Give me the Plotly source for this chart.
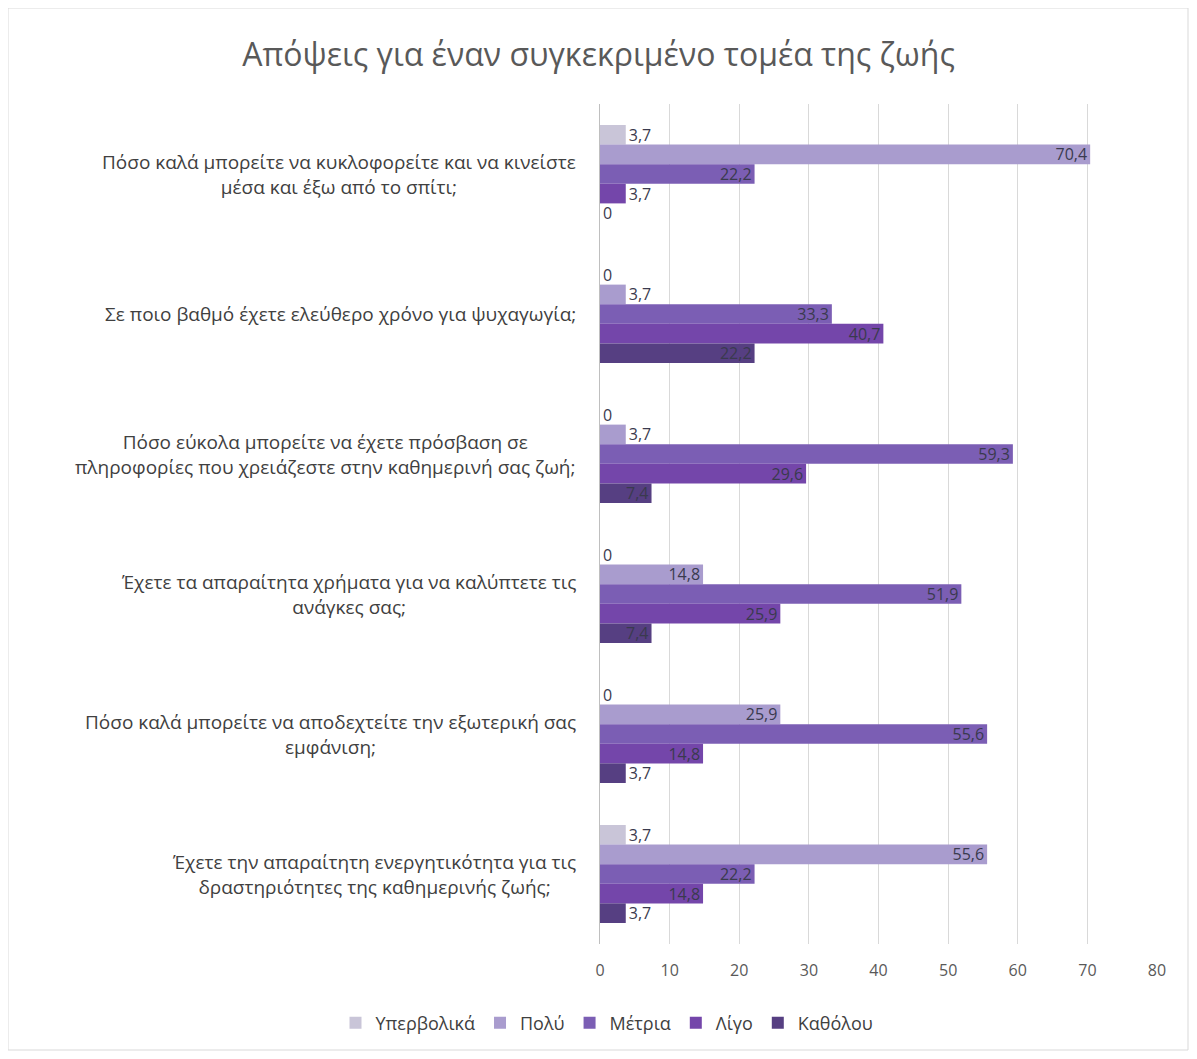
import plotly.graph_objects as go

categories = [
    "Πόσο καλά μπορείτε να κυκλοφορείτε και να κινείστε<br>μέσα και έξω από το σπίτι;",
    "Σε ποιο βαθμό έχετε ελεύθερο χρόνο για ψυχαγωγία;",
    "Πόσο εύκολα μπορείτε να έχετε πρόσβαση σε<br>πληροφορίες που χρειάζεστε στην καθημερινή σας ζωή;",
    "Έχετε τα απαραίτητα χρήματα για να καλύπτετε τις<br>ανάγκες σας;",
    "Πόσο καλά μπορείτε να αποδεχτείτε την εξωτερική σας<br>εμφάνιση;",
    "Έχετε την απαραίτητη ενεργητικότητα για τις<br>δραστηριότητες της καθημερινής ζωής;",
]
cat_ids = ["c1", "c2", "c3", "c4", "c5", "c6"]

series_names = ["Υπερβολικά", "Πολύ", "Μέτρια", "Λίγο", "Καθόλου"]
yperbolika = [3.7, 0, 0, 0, 0, 3.7]
poly = [70.4, 3.7, 3.7, 14.8, 25.9, 55.6]
metria = [22.2, 33.3, 59.3, 51.9, 55.6, 22.2]
ligo = [3.7, 40.7, 29.6, 25.9, 14.8, 14.8]
katholou = [0, 22.2, 7.4, 7.4, 3.7, 3.7]
series_values = [yperbolika, poly, metria, ligo, katholou]
colors = ["#C9C5D8", "#A99CCE", "#7B5EB4", "#7446AA", "#563F82"]

x_ticks = [0, 10, 20, 30, 40, 50, 60, 70, 80]

FONT = "Open Sans, sans-serif"


def fmt(v):
    if v == 0:
        return "0"
    return f"{v}".replace(".", ",")


fig = go.Figure()
for name, vals, col in zip(series_names, series_values, colors):
    fig.add_trace(go.Bar(
        y=cat_ids, x=vals, name=name, orientation="h",
        marker=dict(color=col, line=dict(width=0)),
        text=[fmt(v) for v in vals],
        textposition=["outside" if v < 5 else "inside" for v in vals],
        insidetextanchor="end",
        constraintext="none",
        textfont=dict(family=FONT, size=16, color="#3A3A4E"),
        cliponaxis=False,
    ))

# page has an 8px body margin; positions below are relative to the figure
W, H = 1181, 1043
ml, mr, mt, mb = 592, 32, 96, 107
pw = W - ml - mr
ph = H - mt - mb

annotations = []
for cid, lab in zip(cat_ids, categories):
    annotations.append(dict(
        x=(570 - ml) / pw, xref="paper", y=cid, yref="y",
        text=lab, showarrow=False, xanchor="right", align="center",
        font=dict(family=FONT, size=19, color="#404040"),
    ))

fig.update_layout(
    width=W, height=H,
    margin=dict(l=ml, r=mr, t=mt, b=mb),
    paper_bgcolor="white", plot_bgcolor="white",
    barmode="group", bargap=0.3, bargroupgap=0,
    title=dict(text="Απόψεις για έναν συγκεκριμένο τομέα της ζωής",
               x=0.5, xanchor="center", y=1 - 47 / H, yanchor="middle",
               font=dict(family=FONT, size=32, color="#595959")),
    xaxis=dict(range=[0, 80], tickvals=x_ticks, showgrid=True, gridcolor="#D9D9D9",
               gridwidth=1, zeroline=False, showline=False,
               tickfont=dict(family=FONT, size=16, color="#595959"),
               ticks="", ticklabelstandoff=15),
    yaxis=dict(autorange="reversed", showticklabels=False, ticks="",
               showline=True, linecolor="#BFBFBF", linewidth=1, showgrid=False),
    legend=dict(orientation="h", x=599 / W, xref="container", xanchor="center",
                y=1 - 1015 / H, yref="container", yanchor="middle",
                font=dict(family=FONT, size=18, color="#404040"),
                itemwidth=30, traceorder="normal"),
    annotations=annotations,
)

fig.add_shape(type="rect", xref="paper", yref="paper",
              x0=(0 - ml) / pw, x1=(W - 1 - ml) / pw,
              y0=-(H - 1 - mt - ph) / ph, y1=1 + (mt - 0) / ph,
              line=dict(color="#D9D9D9", width=1), layer="below")

fig.write_html("out.html")
